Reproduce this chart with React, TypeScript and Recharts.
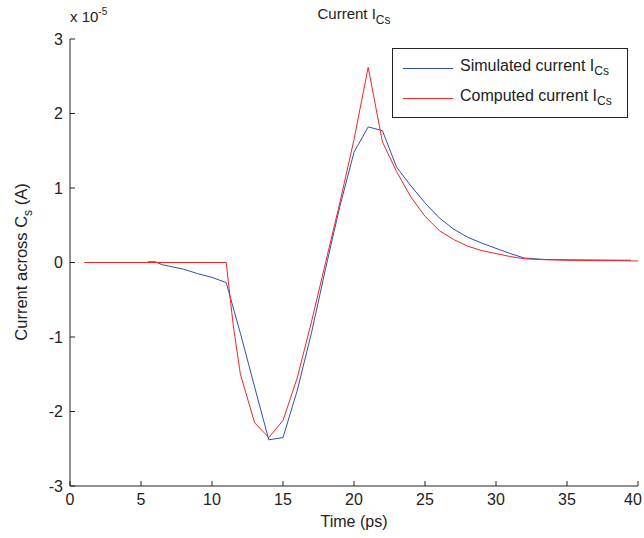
import React from 'react';
import { LineChart, Line, XAxis, YAxis, Legend, Label, Customized } from 'recharts';

// time axis (ps) and current (x 1e-5 A)
const xTicks = [0, 5, 10, 15, 20, 25, 30, 35, 40];
const yTicks = [-3, -2, -1, 0, 1, 2, 3];

const simTime = [5.5, 6, 6.5, 7, 8, 9, 10, 11, 12, 13, 14, 15, 16, 17, 18, 19, 20, 21, 22, 23, 24, 25, 26, 27, 28, 29, 30, 31, 32, 33.5, 35.5, 39.5];
const simCurrent = [0.01, 0.01, -0.03, -0.05, -0.09, -0.15, -0.2, -0.27, -0.95, -1.67, -2.38, -2.35, -1.72, -0.95, -0.08, 0.75, 1.48, 1.82, 1.77, 1.28, 1.03, 0.8, 0.6, 0.45, 0.34, 0.26, 0.19, 0.12, 0.06, 0.04, 0.035, 0.03];

const compTime = [1, 11, 11.5, 12, 13, 14, 15, 16, 17, 18, 19, 20, 21, 22, 23, 24, 25, 26, 27, 28, 29, 30, 31, 32, 33, 35, 40];
const compCurrent = [0, 0, -0.85, -1.5, -2.15, -2.35, -2.12, -1.55, -0.8, 0.0, 0.8, 1.65, 2.62, 1.62, 1.22, 0.88, 0.62, 0.43, 0.31, 0.22, 0.16, 0.12, 0.08, 0.05, 0.04, 0.03, 0.02];

const simData = simTime.map((t, i) => ({ t, v: simCurrent[i] }));
const compData = compTime.map((t, i) => ({ t, v: compCurrent[i] }));

const FONT = '"Liberation Sans", Arial, Helvetica, sans-serif';
const BLUE = '#2f4fb4';
const RED = '#f22424';
const FS = 16;

function Title() {
  return (
    <g fontFamily={FONT} fill="#222">
      <text x={354} y={19} textAnchor="middle" fontSize={15}>
        Current I<tspan fontSize={12} dy={5}>Cs</tspan>
      </text>
      <text x={70} y={22} fontSize={15}>
        x 10<tspan fontSize={10} dy={-7}>-5</tspan>
      </text>
    </g>
  );
}

function YLabel() {
  return (
    <text
      transform="translate(27,262) rotate(-90)"
      textAnchor="middle"
      fontFamily={FONT}
      fontSize={16.5}
      fill="#222"
    >
      Current across C<tspan fontSize={12} dy={5}>s</tspan>
      <tspan dy={-5}> (A)</tspan>
    </text>
  );
}

// bottom tick text; the last label sits a little left so it stays inside the window
function XTick(props: any) {
  const { x, y, payload } = props;
  const dx = payload.value === 40 ? -5 : 0;
  return (
    <text x={x + dx} y={y + 24} textAnchor="middle" fontSize={FS} fontFamily={FONT} fill="#222">
      {payload.value}
    </text>
  );
}

function LegendBox() {
  const row = (color: string, text: string) => (
    <div style={{ display: 'flex', alignItems: 'center', height: 30 }}>
      <div style={{ width: 50, height: 0, borderTop: `1px solid ${color}`, marginLeft: 10, marginRight: 7 }} />
      <span>
        {text} current I<sub style={{ fontSize: 12 }}>Cs</sub>
      </span>
    </div>
  );
  return (
    <div
      style={{
        border: '1px solid #222',
        background: '#fff',
        width: 236,
        height: 70,
        boxSizing: 'border-box',
        paddingTop: 4,
        fontFamily: FONT,
        fontSize: FS,
        color: '#222',
        whiteSpace: 'nowrap',
      }}
    >
      {row(BLUE, 'Simulated')}
      {row(RED, 'Computed')}
    </div>
  );
}

export default function App() {
  const tickStyle = { fontSize: FS, fill: '#222', fontFamily: FONT };
  return (
    <div style={{ position: 'absolute', left: 0, top: 0, width: 644, height: 538, background: '#fff' }}>
      <LineChart width={644} height={538} margin={{ top: 39, right: 6, left: 30, bottom: 22 }}>
        <XAxis
          xAxisId="b"
          type="number"
          dataKey="t"
          domain={[0, 40]}
          ticks={xTicks}
          interval={0}
          height={30}
          stroke="#222"
          tickSize={-5}
          tickMargin={0}
          tick={<XTick />}
        >
          <Label value="Time (ps)" position="insideBottom" offset={-11} style={{ fontSize: FS, fontFamily: FONT, fill: '#222' }} />
        </XAxis>
        <XAxis
          xAxisId="t"
          orientation="top"
          type="number"
          dataKey="t"
          domain={[0, 40]}
          ticks={xTicks}
          interval={0}
          height={0}
          stroke="#222"
          tickSize={-5}
          tick={false}
        />
        <YAxis
          yAxisId="l"
          type="number"
          domain={[-3, 3]}
          ticks={yTicks}
          interval={0}
          width={40}
          stroke="#222"
          tickSize={-5}
          tickMargin={12}
          tick={tickStyle}
        />
        <YAxis
          yAxisId="r"
          orientation="right"
          type="number"
          domain={[-3, 3]}
          ticks={yTicks}
          interval={0}
          width={0}
          stroke="#222"
          tickSize={-5}
          tick={false}
        />
        <Line
          xAxisId="b"
          yAxisId="l"
          data={simData}
          dataKey="v"
          type="linear"
          stroke={BLUE}
          strokeWidth={1}
          dot={false}
          isAnimationActive={false}
        />
        <Line
          xAxisId="b"
          yAxisId="l"
          data={compData}
          dataKey="v"
          type="linear"
          stroke={RED}
          strokeWidth={1}
          dot={false}
          isAnimationActive={false}
        />
        <Customized component={Title} />
        <Customized component={YLabel} />
        <Legend
          layout="vertical"
          align="center"
          verticalAlign="middle"
          wrapperStyle={{ position: 'absolute', left: 392, top: 48, width: 'auto' }}
          content={() => <LegendBox />}
        />
      </LineChart>
    </div>
  );
}
